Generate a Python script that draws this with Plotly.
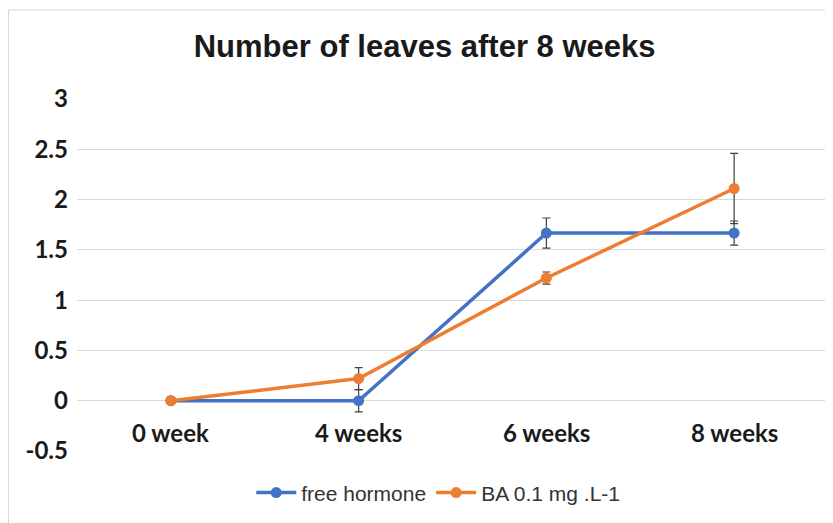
import plotly.graph_objects as go

categories = ["0 week", "4 weeks", "6 weeks", "8 weeks"]
free_hormone = [0, 0, 1.667, 1.667]
free_hormone_err = [0, 0.11, 0.15, 0.12]
ba = [0, 0.22, 1.22, 2.11]
ba_err = [0, 0.11, 0.06, 0.35]
y_ticks = [-0.5, 0, 0.5, 1, 1.5, 2, 2.5, 3]
y_tick_text = ["-0.5", "0", "0.5", "1", "1.5", "2", "2.5", "3"]

BLUE = "#4472C4"
ORANGE = "#ED7D31"
TICK_FONT = dict(family="Lato, Open Sans, sans-serif", size=24, color="#1a1a1a")

fig = go.Figure()
fig.add_trace(go.Scatter(
    x=categories, y=free_hormone, name="free hormone", mode="lines+markers",
    line=dict(color=BLUE, width=3.5), marker=dict(color=BLUE, size=11),
    error_y=dict(type="data", array=free_hormone_err, visible=True,
                 color="#404040", thickness=1.2, width=4),
))
fig.add_trace(go.Scatter(
    x=categories, y=ba, name="BA 0.1 mg .L-1", mode="lines+markers",
    line=dict(color=ORANGE, width=3.5), marker=dict(color=ORANGE, size=11),
    error_y=dict(type="data", array=ba_err, visible=True,
                 color="#404040", thickness=1.2, width=4),
))

for c in categories:
    fig.add_annotation(x=c, y=0, text="<b>%s</b>" % c, showarrow=False,
                       yanchor="middle", yshift=-32, font=TICK_FONT)

fig.update_layout(
    width=825, height=515,
    margin=dict(l=69, r=5, t=91, b=72),
    paper_bgcolor="white", plot_bgcolor="white",
    title=dict(text="<b>Number of leaves after 8 weeks</b>", x=0.505, xanchor="center",
               y=1 - 38 / 515, yanchor="middle",
               font=dict(family="Liberation Sans, Arial, sans-serif", size=31, color="#1a1a1a")),
    xaxis=dict(type="category", range=[-0.5, 3.5], showgrid=False, showticklabels=False,
               zeroline=False, showline=False),
    yaxis=dict(range=[-0.5, 3], tickvals=y_ticks, ticktext=["<b>%s</b>" % t for t in y_tick_text],
               showgrid=True, gridcolor="#d9d9d9", gridwidth=1.3, zeroline=False,
               showline=False, ticklabelstandoff=8, tickfont=TICK_FONT),
    legend=dict(orientation="h", x=0.481, xanchor="center", y=-0.119, yanchor="middle",
                font=dict(family="Liberation Sans, Arial, sans-serif", size=21, color="#333333"),
                itemwidth=40),
    shapes=[dict(type="rect", xref="paper", yref="paper", x0=-0.0912, x1=1.2, y0=-0.4, y1=1.2528,
                 line=dict(color="#d9d9d9", width=1), layer="below")],
)

fig.write_html("out.html")
